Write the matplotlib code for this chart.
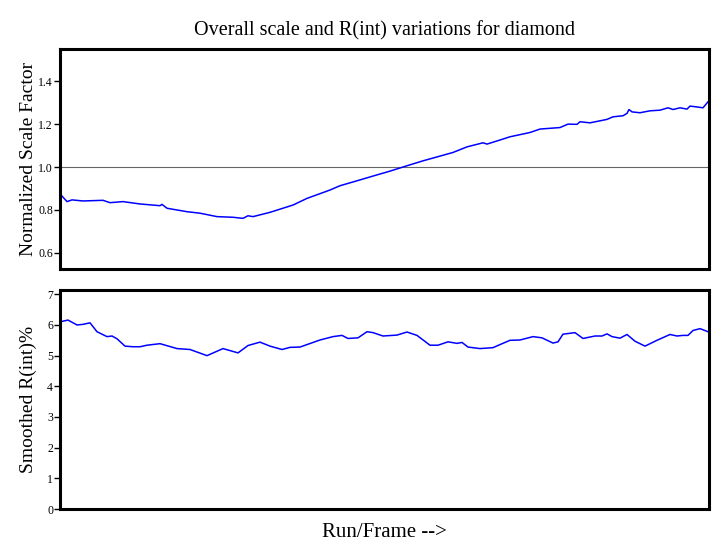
import matplotlib
matplotlib.use("Agg")
import matplotlib.pyplot as plt

plt.rcParams['font.family'] = ['Liberation Serif', 'DejaVu Serif']

# frame positions and normalized scale factor
scale_frames = [1, 7, 12, 23, 43, 50, 63, 80, 100, 102, 107, 127, 140, 157, 173, 183,
                188, 193, 210, 233, 247, 270, 280, 297, 313, 330, 347, 363, 380,
                393, 407, 423, 427, 440, 450, 470, 480, 500, 508, 517, 520, 530,
                547, 553, 563, 567, 569, 572, 580, 590, 600, 608, 613, 620, 627,
                630, 637, 643, 648]
scale_values = [0.870, 0.839, 0.847, 0.842, 0.845, 0.834, 0.839, 0.828, 0.820, 0.826,
                0.808, 0.792, 0.785, 0.769, 0.766, 0.761, 0.773, 0.769, 0.789, 0.823,
                0.854, 0.893, 0.913, 0.936, 0.958, 0.981, 1.006, 1.029, 1.051,
                1.068, 1.094, 1.113, 1.107, 1.126, 1.141, 1.161, 1.177, 1.184, 1.200,
                1.199, 1.211, 1.206, 1.222, 1.234, 1.239, 1.250, 1.268, 1.257,
                1.253, 1.262, 1.265, 1.276, 1.268, 1.276, 1.270, 1.284, 1.280,
                1.276, 1.304]

# frame positions and smoothed R(int) % (bottom panel)
rint_frames = [1, 8, 17, 23, 30, 37, 47, 52, 57, 65, 73, 80, 87, 100, 117, 130, 147,
               163, 178, 188, 200, 210, 222, 230, 240, 260, 273, 282, 288, 298,
               307, 313, 323, 337, 347, 357, 370, 378, 388, 397, 402, 408, 420,
               433, 440, 450, 460, 473, 482, 493, 498, 503, 515, 523, 535, 542,
               547, 552, 560, 567, 575, 585, 597, 610, 617, 623, 628, 633, 640, 648]
rint_values = [6.11, 6.16, 6.00, 6.02, 6.07, 5.78, 5.62, 5.64, 5.55, 5.31, 5.29, 5.29,
               5.34, 5.39, 5.23, 5.20, 5.00, 5.23, 5.09, 5.33, 5.44, 5.31, 5.20,
               5.27, 5.28, 5.51, 5.62, 5.66, 5.56, 5.58, 5.78, 5.75, 5.64, 5.67,
               5.77, 5.66, 5.34, 5.34, 5.45, 5.40, 5.43, 5.28, 5.23, 5.26, 5.36,
               5.50, 5.51, 5.62, 5.58, 5.41, 5.45, 5.70, 5.75, 5.56, 5.64, 5.64,
               5.71, 5.62, 5.57, 5.69, 5.47, 5.31, 5.50, 5.69, 5.64, 5.66, 5.66,
               5.82, 5.88, 5.78]

fig = plt.figure(figsize=(7.25, 5.55), dpi=100)
ax1 = fig.add_axes([60 / 725, 1 - 269 / 555, 649 / 725, 220 / 555])
ax2 = fig.add_axes([60 / 725, 1 - 509 / 555, 649 / 725, 219 / 555])

ax1.plot(scale_frames, scale_values, color='#0000ff', lw=1.1)
ax1.axhline(1.0, color='#666666', lw=0.8, zorder=0)
ax1.set_ylim(0.525, 1.55)
ax1.set_yticks([0.6, 0.8, 1.0, 1.2, 1.4])
ax1.set_ylabel('Normalized Scale Factor', fontsize=14)
ax1.set_title('Overall scale and R(int) variations for diamond', fontsize=14.5, pad=10)

ax2.plot(rint_frames, rint_values, color='#0000ff', lw=1.1)
ax2.set_ylim(0, 7.14)
ax2.set_yticks(range(8))
ax2.set_ylabel('Smoothed R(int)%', fontsize=14)
ax2.set_xlabel('Run/Frame -->', fontsize=15, labelpad=10)

for ax in (ax1, ax2):
    ax.set_xlim(0, 649)
    ax.set_xticks([])
    ax.tick_params(axis='y', labelsize=8.5, length=4, width=1, pad=1)
    ax.yaxis.set_label_coords(-0.036, 0.5)
    for s in ax.spines.values():
        s.set_linewidth(2.2)

fig.savefig('out.png', dpi=100)
